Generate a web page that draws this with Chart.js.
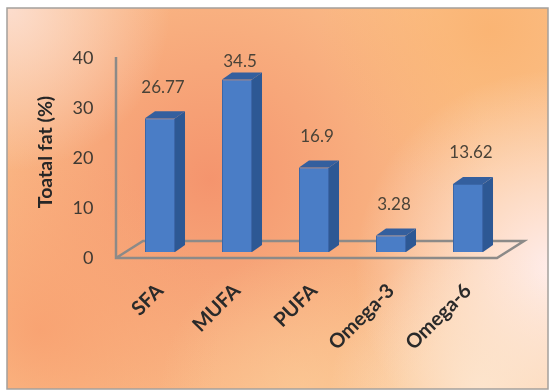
<!DOCTYPE html>
<html>
<head>
<meta charset="utf-8">
<script src="https://cdn.jsdelivr.net/npm/chart.js@4.4.0/dist/chart.umd.min.js"></script>
<style>
html, body { margin: 0; padding: 0; background: #fff; }
#wrap { width: 555px; height: 392px; position: relative; }
</style>
</head>
<body>
<div id="wrap"><canvas id="fatChart"></canvas></div>
<script>
// Data
var categories = ['SFA', 'MUFA', 'PUFA', 'Omega-3', 'Omega-6'];
var fatValues = [26.77, 34.5, 16.9, 3.28, 13.62];
var valueLabels = ['26.77', '34.5', '16.9', '3.28', '13.62'];
var yTicks = [0, 10, 20, 30, 40];
var yTitle = 'Toatal fat (%)';

// 3D look
var depthX = 10;
var depthY = 7;

// Background + frame
var backgroundPlugin = {
  id: 'backgroundPlugin',
  beforeDraw: function(chart) {
    var ctx = chart.ctx;
    var w = chart.width, h = chart.height;
    var fx = 7, fy = 8, fw = w - 14, fh = h - 11;
    ctx.save();
    ctx.fillStyle = '#ffffff';
    ctx.fillRect(0, 0, w, h);
    ctx.fillStyle = '#fbc28c';
    ctx.fillRect(fx, fy, fw, fh);
    var blobs = [
      [210, 180, 280, 'rgba(244,146,108,0.95)'],
      [40, 330, 180, 'rgba(248,158,110,0.8)'],
      [10, 10, 160, 'rgba(252,222,208,0.95)'],
      [490, 30, 170, 'rgba(250,176,108,0.75)'],
      [300, 392, 140, 'rgba(252,206,156,0.6)'],
      [555, 270, 200, 'rgba(255,238,238,0.98)'],
      [480, 392, 150, 'rgba(253,234,214,0.8)']
    ];
    for (var i = 0; i < blobs.length; i++) {
      var b = blobs[i];
      var g = ctx.createRadialGradient(b[0], b[1], 0, b[0], b[1], b[2]);
      g.addColorStop(0, b[3]);
      g.addColorStop(1, b[3].replace(/[\d.]+\)$/, '0)'));
      ctx.fillStyle = g;
      ctx.fillRect(fx, fy, fw, fh);
    }
    ctx.strokeStyle = '#a4a09c';
    ctx.lineWidth = 1.5;
    ctx.strokeRect(fx, fy, fw, fh);
    ctx.restore();
  }
};

// Axis line and floor
var floorPlugin = {
  id: 'floorPlugin',
  beforeDatasetsDraw: function(chart) {
    var ctx = chart.ctx;
    var area = chart.chartArea;
    var yScale = chart.scales.y;
    var fl = area.left - 5.5, fr = area.right - 9.5, fb = area.bottom + 6;
    var bx = 27, by = 17;
    ctx.save();
    ctx.strokeStyle = '#8c8a88';
    ctx.lineWidth = 2.5;
    ctx.beginPath();
    ctx.moveTo(fl, yScale.getPixelForValue(40) + 5);
    ctx.lineTo(fl, fb);
    ctx.lineTo(fr, fb);
    ctx.lineTo(fr + bx, fb - by);
    ctx.lineTo(fl + bx, fb - by);
    ctx.lineTo(fl, fb);
    ctx.stroke();
    ctx.restore();
  }
};

// Side / top faces and value labels
var bar3dPlugin = {
  id: 'bar3dPlugin',
  afterDatasetsDraw: function(chart) {
    var ctx = chart.ctx;
    var meta = chart.getDatasetMeta(0);
    var area = chart.chartArea;
    ctx.save();
    meta.data.forEach(function(bar, i) {
      var left = bar.x - bar.width / 2;
      var right = bar.x + bar.width / 2;
      var top = bar.y;
      var base = bar.base;
      // side
      ctx.fillStyle = '#2d5894';
      ctx.beginPath();
      ctx.moveTo(right, top);
      ctx.lineTo(right + depthX, top - depthY);
      ctx.lineTo(right + depthX, base - depthY);
      ctx.lineTo(right, base);
      ctx.closePath();
      ctx.fill();
      // top
      ctx.fillStyle = '#345f9e';
      ctx.beginPath();
      ctx.moveTo(left, top);
      ctx.lineTo(left + depthX, top - depthY);
      ctx.lineTo(right + depthX, top - depthY);
      ctx.lineTo(right, top);
      ctx.closePath();
      ctx.fill();
      // label
      ctx.fillStyle = '#4a4338';
      ctx.font = '17px Lato';
      ctx.textAlign = 'center';
      ctx.textBaseline = 'middle';
      var ly = Math.max(top - 31, area.top + 10);
      ctx.fillText(valueLabels[i], bar.x + 3, ly);
    });
    ctx.restore();
  }
};

var ctx = document.getElementById('fatChart').getContext('2d');
var fatChart = new Chart(ctx, {
  type: 'bar',
  data: {
    labels: categories,
    datasets: [{
      data: fatValues,
      backgroundColor: '#4a7dc6',
      borderColor: '#3b67a8',
      borderWidth: 1,
      barPercentage: 0.39,
      categoryPercentage: 1
    }]
  },
  options: {
    responsive: true,
    maintainAspectRatio: false,
    animation: false,
    layout: { padding: { left: 10, right: 48.5, top: 52, bottom: 10 } },
    plugins: {
      legend: { display: false },
      tooltip: { enabled: false }
    },
    scales: {
      x: {
        grid: { display: false },
        border: { display: false },
        ticks: {
          color: '#2a2a2a',
          font: { family: 'Lato', size: 20, weight: 'bold' },
          minRotation: 45,
          maxRotation: 45,
          padding: 19
        },
        afterFit: function(scale) { scale.height = 130; }
      },
      y: {
        min: 0,
        max: 40,
        grid: { display: false, drawTicks: false },
        border: { display: false },
        afterBuildTicks: function(scale) {
          scale.ticks = yTicks.map(function(v) { return { value: v }; });
        },
        ticks: {
          color: '#3f3a33',
          font: { family: 'Lato', size: 18 },
          padding: 28,
          labelOffset: 6
        },
        title: {
          display: true,
          text: yTitle,
          color: '#262626',
          font: { family: 'Lato', size: 19.5, weight: 'bold' },
          padding: { top: 24, bottom: 0 }
        },
        afterFit: function(scale) { scale.width = 111.5; }
      }
    }
  },
  plugins: [backgroundPlugin, floorPlugin, bar3dPlugin]
});
</script>
</body>
</html>
